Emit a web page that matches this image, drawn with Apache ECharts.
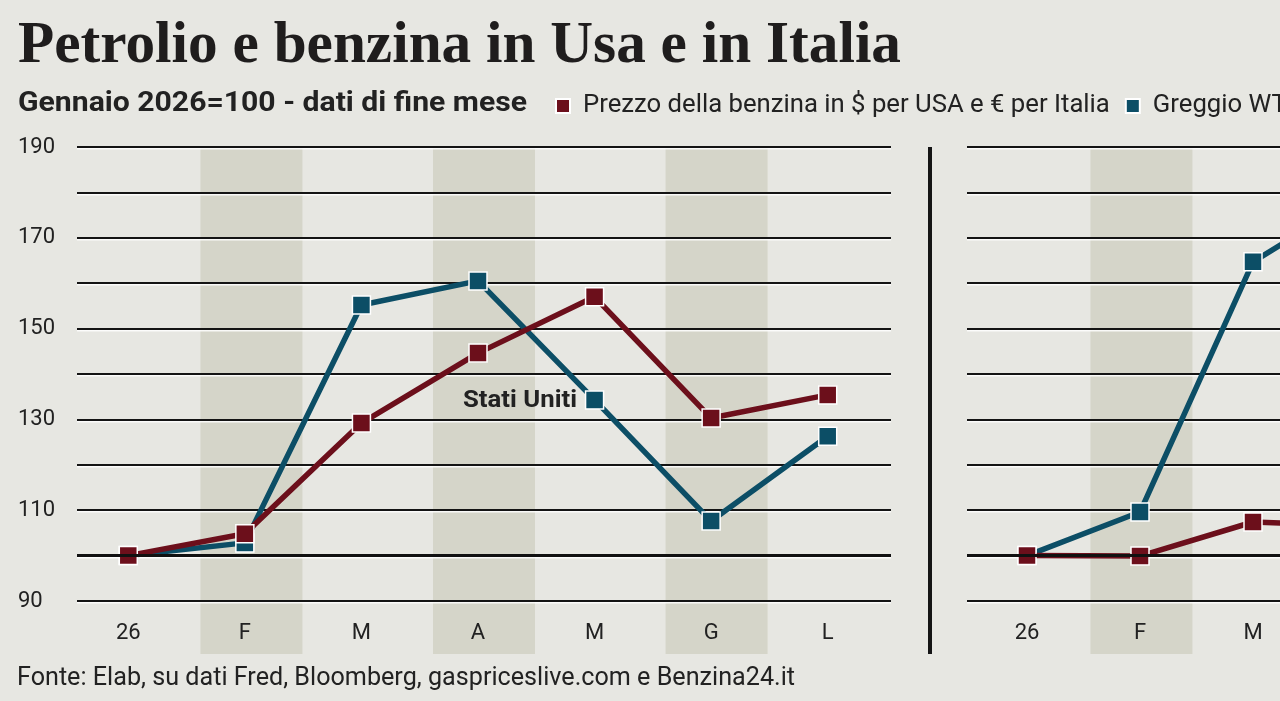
<!DOCTYPE html>
<html><head><meta charset="utf-8">
<script src="https://cdn.jsdelivr.net/npm/echarts@6/dist/echarts.min.js"></script>
<style>html,body{margin:0;padding:0;background:#e7e7e2;overflow:hidden}#c{width:1280px;height:701px}</style>
</head><body><div id="c"></div>
<script>
// ---- data ----
const months = ['26', 'F', 'M', 'A', 'M', 'G', 'L'];
const shadedMonths = [null, 1, null, 1, null, 1, null];
const usaBenzina = [100, 104.8, 129.2, 144.6, 157.0, 130.3, 135.4];
const usaGreggio = [100, 102.8, 155.2, 160.5, 134.3, 107.6, 126.3];
const itaBenzina = [100, 99.9, 107.4, 106.4, null, null, null];
const itaGreggio = [100, 109.6, 164.7, 180.0, null, null, null];
const yMin = 90, yMax = 190, yLabelStep = 20, baseLine = 100;
const nameBenzina = 'Prezzo della benzina in $ per USA e € per Italia';
const nameGreggio = 'Greggio WTI';
const titleText = 'Petrolio e benzina in Usa e in Italia';
const subtitleText = 'Gennaio 2026=100 - dati di fine mese';
const sourceText = 'Fonte: Elab, su dati Fred, Bloomberg, gaspriceslive.com e Benzina24.it';
const usaLabel = 'Stati Uniti';

// ---- styles ----
const RED = '#6c0f1b', BLUE = '#0c4e66', BAND = '#d5d5c9', INK = '#1f1d1d';
const ctx = document.createElement('canvas').getContext('2d');
function tw(t, f) { ctx.font = f; return ctx.measureText(t).width; }
const fTitle = 'bold 59px "Liberation Serif"';
const fSub = 'bold 28px Roboto';
const fSrc = '25px Roboto';
const fLab = 'bold 23px Roboto';
const legendSize = 22 * 527 / tw(nameBenzina, '22px Roboto');

const chart = echarts.init(document.getElementById('c'), null, {renderer: 'canvas'});

function g(left, width, height) {
  return {left: left, top: 147, width: width, height: height, containLabel: false, outerBoundsMode: 'none'};
}
const grids = [g(77, 814, 507), g(77, 814, 454), g(70, 816, 454),
               g(967, 814, 507), g(967, 814, 454), g(970.5, 791, 454)];

const hiddenCat = {type: 'category', data: months, show: false};
const gridLineStyle = {color: '#141414', width: 2, shadowColor: 'rgba(255,255,255,0.85)', shadowOffsetY: 1.5};
function lineY(gi, labels) {
  return {type: 'value', gridIndex: gi, min: yMin, max: yMax, interval: yLabelStep,
    axisLine: {show: false}, axisTick: {show: false},
    axisLabel: {show: labels, align: 'left', margin: 59, fontFamily: 'Roboto', fontSize: 22, color: '#222'},
    splitLine: {show: true, lineStyle: gridLineStyle},
    minorTick: {show: false, splitNumber: 2},
    minorSplitLine: {show: true, lineStyle: gridLineStyle}};
}
function dataX(gi) {
  return {type: 'category', gridIndex: gi, data: months, axisLine: {show: false}, axisTick: {show: false},
    axisLabel: {margin: 21, fontFamily: 'Roboto', fontSize: 22, color: '#222', interval: 0}};
}
function bandSeries(ai) {
  return {type: 'bar', xAxisIndex: ai, yAxisIndex: ai, data: shadedMonths, barWidth: 102,
    itemStyle: {color: BAND}, silent: true, z: -1, animation: false};
}
function baseSeries(ai) {
  return {type: 'line', xAxisIndex: ai, yAxisIndex: ai, data: [], silent: true,
    markLine: {silent: true, symbol: 'none', label: {show: false}, animation: false,
      lineStyle: {color: '#111', width: 3, type: 'solid'}, data: [{yAxis: baseLine}]}};
}
function dataSeries(name, data, color, ai, z) {
  return {type: 'line', name: name, data: data, xAxisIndex: ai, yAxisIndex: ai, z: z,
    symbol: 'rect', symbolSize: 18, showAllSymbol: true, connectNulls: false,
    lineStyle: {color: color, width: 5.5}, itemStyle: {color: color, borderColor: '#ffffff', borderWidth: 1.5},
    emphasis: {disabled: true}, animation: false};
}

const option = {
  backgroundColor: '#e7e7e2',
  animation: false,
  grid: grids,
  legend: {left: 555, top: 93, padding: 0, width: 1600, itemWidth: 14, itemHeight: 14, itemGap: 15, icon: 'rect',
    selectedMode: false, data: [nameBenzina, nameGreggio],
    textStyle: {fontFamily: 'Roboto', fontSize: legendSize, color: '#222', padding: [0, 0, 0, 8]}},
  xAxis: [Object.assign({gridIndex: 0}, hiddenCat), Object.assign({gridIndex: 1}, hiddenCat), dataX(2),
          Object.assign({gridIndex: 3}, hiddenCat), Object.assign({gridIndex: 4}, hiddenCat), dataX(5)],
  yAxis: [{type: 'value', gridIndex: 0, min: 0, max: 1, show: false}, lineY(1, true),
          {type: 'value', gridIndex: 2, min: yMin, max: yMax, show: false},
          {type: 'value', gridIndex: 3, min: 0, max: 1, show: false}, lineY(4, false),
          {type: 'value', gridIndex: 5, min: yMin, max: yMax, show: false}],
  series: [
    bandSeries(0), bandSeries(3), baseSeries(1), baseSeries(4),
    dataSeries(nameGreggio, usaGreggio, BLUE, 2, 3),
    dataSeries(nameBenzina, usaBenzina, RED, 2, 4),
    dataSeries(nameGreggio, itaGreggio, BLUE, 5, 3),
    dataSeries(nameBenzina, itaBenzina, RED, 5, 4)
  ],
  graphic: [
    {type: 'text', x: 18, y: 47, scaleX: 883 / tw(titleText, fTitle),
      style: {text: titleText, font: fTitle, fill: INK, verticalAlign: 'middle'}},
    {type: 'text', x: 18, y: 104, scaleX: 509 / tw(subtitleText, fSub),
      style: {text: subtitleText, font: fSub, fill: '#222', verticalAlign: 'middle'}},
    {type: 'text', x: 17, y: 679, scaleX: 778 / tw(sourceText, fSrc),
      style: {text: sourceText, font: fSrc, fill: '#222', verticalAlign: 'middle'}},
    {type: 'text', x: 463, y: 401, z: 10, scaleX: 114 / tw(usaLabel, fLab),
      style: {text: usaLabel, font: fLab, fill: '#222', verticalAlign: 'middle'}},
    {type: 'rect', shape: {x: 928, y: 147, width: 4, height: 507}, style: {fill: '#151515'}}
  ]
};
chart.setOption(option);
</script></body></html>
